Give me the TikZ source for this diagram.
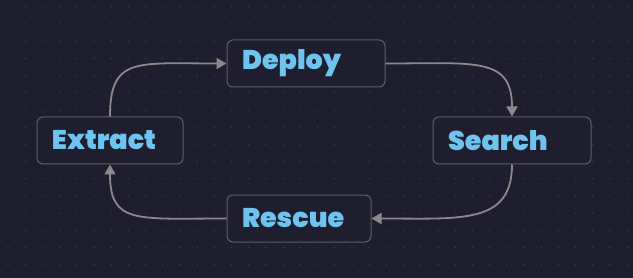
\documentclass[tikz,border=0pt]{standalone}
\usepackage{xcolor}
\usepackage{fontspec}
\setmainfont{Poppins}[BoldFont={Poppins Black}]
\usetikzlibrary{positioning,arrows.meta}
\definecolor{bgdark}{HTML}{1E1E2E}
\definecolor{griddot}{HTML}{3A3A4C}
\definecolor{boxline}{HTML}{5E5E68}
\definecolor{stagetext}{HTML}{6EC4EE}
\definecolor{flowline}{HTML}{8A8A8C}

\begin{document}
\begin{tikzpicture}[x=1pt, y=-1pt, stage/.style={draw=boxline, line width=1pt, rounded corners=6pt, fill=bgdark, text=stagetext, font=\fontsize{27}{30}\selectfont\bfseries, align=left, inner xsep=15pt, minimum height=47pt}, flow/.style={-{Triangle[length=10pt,width=11pt,fill=flowline]}, draw=flowline, line width=1.8pt}]
\fill[bgdark] (0,0) rectangle (633,278);
\useasboundingbox (0,0) rectangle (633,278);
\foreach \i in {0,...,36} \foreach \j in {0,...,15} \fill[griddot] (8+17.2*\i,6.7+17.2*\j) circle (0.8pt);
\node[stage, text width=128pt] (deploy) at (306,63.5) {Deploy};
\node[stage, text width=116pt] (extract) at (110,140.5) {Extract};
\node[stage, text width=128pt, right=249pt of extract] (search) {Search};
\node[stage, text width=114pt, below=107pt of deploy.south west, anchor=north west] (rescue) {Rescue};
\draw[flow] (extract.north) .. controls +(0,-60) and +(-90,0) .. (deploy.west);
\draw[flow] (deploy.east) .. controls +(90,0) and +(0,-60) .. (search.north);
\draw[flow] (search.south) .. controls +(0,60) and +(90,0) .. (rescue.east);
\draw[flow] (rescue.west) .. controls +(-90,0) and +(0,60) .. (extract.south);
\end{tikzpicture}
\end{document}
